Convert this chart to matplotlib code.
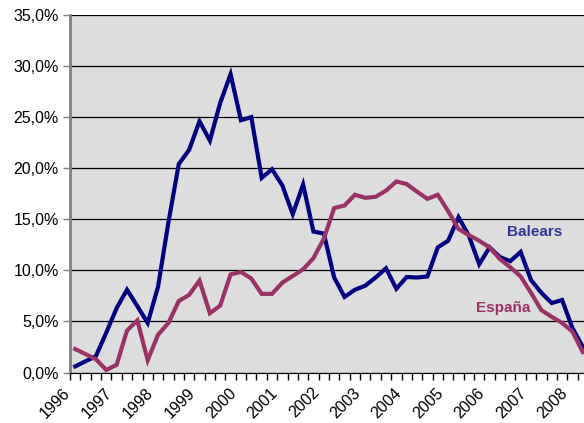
import matplotlib.pyplot as plt
import numpy as np

# Datos trimestrales (1996T1 - 2008T2), % de variacion interanual
years = ['1996', '1997', '1998', '1999', '2000', '2001', '2002',
         '2003', '2004', '2005', '2006', '2007', '2008']

balears = [0.6, 1.1, 1.6, 3.9, 6.3, 8.1, 6.5, 4.85, 8.4, 14.7,
           20.4, 21.8, 24.6, 22.7, 26.4, 29.2, 24.7, 25.0, 19.05, 19.9,
           18.3, 15.5, 18.4, 13.8, 13.6, 9.3, 7.4, 8.1, 8.5, 9.3,
           10.2, 8.2, 9.35, 9.3, 9.4, 12.25, 12.9, 15.2, 13.4, 10.6,
           12.25, 11.3, 10.9, 11.8, 9.05, 7.8, 6.8, 7.1, 4.35, 2.5]

espana = [2.3, 1.8, 1.3, 0.25, 0.75, 4.1, 5.1, 1.2, 3.7, 4.85,
          7.0, 7.6, 9.0, 5.8, 6.55, 9.6, 9.85, 9.2, 7.7, 7.7,
          8.8, 9.45, 10.1, 11.2, 13.1, 16.1, 16.35, 17.4, 17.1, 17.2,
          17.8, 18.7, 18.45, 17.7, 17.0, 17.4, 15.8, 14.05, 13.45, 12.9,
          12.25, 11.1, 10.3, 9.4, 7.8, 6.1, 5.45, 4.85, 4.0, 2.0]

plt.rcParams['font.family'] = ['Liberation Sans', 'DejaVu Sans']

W, H = 584, 423
fig = plt.figure(figsize=(W / 100, H / 100), dpi=100)
n = len(balears)
px_per_q = 10.36
ax = fig.add_axes([70 / W, (H - 372.5) / H, n * px_per_q / W, 357.5 / H])
ax.set_facecolor('#DDDDDD')

x = np.arange(n)
ax.plot(x, balears, color='#000080', lw=3.0, solid_joinstyle='miter', zorder=3)
ax.plot(x, espana, color='#993366', lw=3.0, solid_joinstyle='miter', zorder=3)

ax.set_xlim(-0.5, n - 0.5)
ax.set_ylim(0, 35)

# rejilla horizontal
ax.set_yticks(np.arange(0, 36, 5))
ax.yaxis.grid(True, color='black', lw=0.9)
ax.set_axisbelow(True)
ax.set_yticklabels([f"{v:.1f}%".replace('.', ',') for v in np.arange(0, 36, 5)], fontsize=11.5)
ax.tick_params(axis='y', length=5, width=1, color='#808080', pad=3)

# marcas de trimestre y etiquetas de ano
ax.set_xticks(np.arange(-0.5, n, 1))
ax.set_xticklabels([])
ax.tick_params(axis='x', length=5, width=1, color='black')
for k, yr in enumerate(years):
    ax.text(4 * k - 0.7, -1.75, yr, rotation=45, rotation_mode='anchor',
            ha='right', va='center', fontsize=11.5, clip_on=False)

for s in ['top', 'right']:
    ax.spines[s].set_visible(False)
ax.spines['left'].set_color('#808080')
ax.spines['left'].set_linewidth(2)
ax.spines['bottom'].set_color('black')

fig.text(535 / W, 1 - 232 / H, 'Balears', fontsize=11, fontweight='bold',
         color='#333399', ha='center', va='center')
fig.text(503 / W, 1 - 308 / H, 'España', fontsize=11, fontweight='bold',
         color='#993366', ha='center', va='center')

fig.savefig('out.png', dpi=100)
